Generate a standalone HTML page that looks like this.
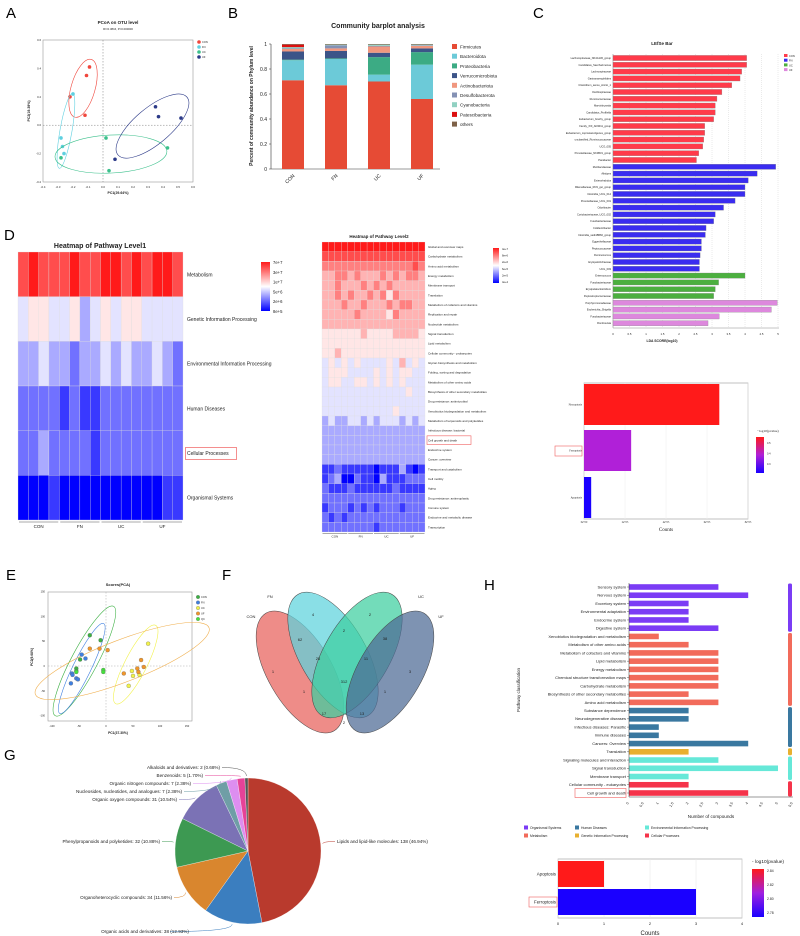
<!DOCTYPE html>
<html><head><meta charset="utf-8"><style>
html,body{margin:0;padding:0;background:#fff}
svg{display:block;font-family:"Liberation Sans",sans-serif}
</style></head><body>
<svg id="fig" width="800" height="936" viewBox="0 0 800 936" xmlns="http://www.w3.org/2000/svg"></svg>
<script>
const NS='http://www.w3.org/2000/svg';
const S=document.getElementById('fig');
function mk(t,a,p){const e=document.createElementNS(NS,t);for(const k in a)e.setAttribute(k,a[k]);(p||S).appendChild(e);return e;}
function tx(x,y,s,str,anchor,extra){const e=mk('text',Object.assign({x:x,y:y,'font-size':s,'text-anchor':anchor||'start',fill:'#222'},extra||{}));e.textContent=str;return e;}
function lab(x,y,s,str,anchor,name,extra){const e=tx(x,y,s,str,anchor,extra);


return e;}
function hex(r,g,b){return 'rgb('+Math.round(r)+','+Math.round(g)+','+Math.round(b)+')';}
function bwr(v){const t=v/9;if(t<0.5){const k=t/0.5;return hex(255*k,255*k,255);}const k=(t-0.5)/0.5;return hex(255,255*(1-k)+26*k,255*(1-k)+26*k);}

/* ---------- data ---------- */
const pcoaGroups=['CON','FN','UC','UF'];
const pcoaColors=['#f0463c','#5fd0e0','#3cc08c','#2c3a88'];
const pcoaX=[[-0.09,-0.11,-0.22,-0.12],[-0.2,-0.28,-0.27,-0.26],[0.02,0.43,0.04,-0.28],[0.35,0.37,0.52,0.08]];
const pcoaY=[[0.41,0.35,0.2,0.07],[0.22,-0.09,-0.15,-0.2],[-0.09,-0.16,-0.32,-0.23],[0.13,0.06,0.05,-0.24]];
const pcoaEllCx=[-0.133,-0.247,0.053,0.33];
const pcoaEllCy=[0.26,-0.04,-0.203,-0.006];
const axTicksA=[-0.4,-0.2,0,0.2,0.4,0.6];
const axTicksAx=[-0.4,-0.3,-0.2,-0.1,0,0.1,0.2,0.3,0.4,0.5,0.6];
const phyla=['Firmicutes','Bacteroidota','Proteobacteria','Verrucomicrobiota','Actinobacteriota','Desulfobacterota','Cyanobacteria','Patescibacteria','others'];
const phylaColors=['#e64b35','#6ccad8','#3cab84','#3c5488','#f0977f','#8491b4','#91d1c2','#dc1010','#7e6148'];
const groupsB=['CON','FN','UC','UF'];
const abund=[[0.71,0.16,0.005,0.065,0.02,0.005,0.01,0.02,0.005],[0.67,0.21,0.005,0.06,0.02,0.025,0.005,0,0.005],[0.70,0.055,0.14,0.035,0.05,0.005,0.01,0,0.005],[0.56,0.275,0.1,0.03,0.02,0.005,0.005,0,0.005]];
const ticksB=[0,0.2,0.4,0.6,0.8,1];
const lefseNames=['Lachnospiraceae_NK4A136_group','Candidatus_Saccharimonas','Lachnospiraceae','Gastranaerophilales','Clostridium_sensu_stricto_1','Oscillospiraceae','Ruminococcaceae','Marvinbryantia','Candidatus_Profftella','Eubacterium_brachy_group','Family_XIII_AD3011_group','Eubacterium_coprostanoligenes_group','unclassified_Ruminococcaceae','UCG_005','Prevotellaceae_NK3B31_group','Parabacter','Muribaculaceae','Alistipes','Enterorhabdus','Rikenellaceae_RC9_gut_group','Clostridia_UCG_014','Prevotellaceae_UCG_001','Odoribacter','Coriobacteriaceae_UCG_002','Fusobacteriaceae','Colidextribacter','Clostridia_vadinBB60_group','Eggerthellaceae','Peptococcaceae','Ruminococcus','Erysipelotrichaceae','UCG_003','Enterococcus','Fusobacteriaceae','Erysipelatoclostridium','Peptostreptococcaceae','Porphyromonadaceae','Escherichia_Shigella','Fusobacteriaceae','Romboutsia'];
const lefseVals=[4.05,4.05,3.9,3.85,3.6,3.3,3.15,3.1,3.1,3.05,2.78,2.78,2.75,2.72,2.6,2.53,4.93,4.37,4.1,4.0,4.0,3.7,3.35,3.1,3.05,2.82,2.8,2.68,2.68,2.64,2.62,2.62,4.0,3.2,3.1,3.05,4.98,4.8,3.22,2.88];
const lefseGroup=[0,0,0,0,0,0,0,0,0,0,0,0,0,0,0,0,1,1,1,1,1,1,1,1,1,1,1,1,1,1,1,1,2,2,2,2,3,3,3,3];
const lefseLegend=['CON','FN','UC','UF'];
const lefseColors=['#ff3b4a','#3a2cf0','#4caf3f','#dd88dd'];
const ldaTicks=[0,0.5,1,1.5,2,2.5,3,3.5,4,4.5,5];
const deathNames=['Necroptosis','Ferroptosis','Apoptosis'];
const deathCounts=[660000,230000,35000];
const deathColors=['#ff1a1a','#b020d8','#1a00ff'];
const countTicksC=[0,200000,400000,600000,800000];
const countTickLabC=['0e+00','2e+05','4e+05','6e+05','8e+05'];
const l1Rows=['Metabolism','Genetic Information Processing','Environmental Information Processing','Human Diseases','Cellular Processes','Organismal Systems'];
const l1Vals=['8988898899898998','4554453454554444','3343323343433432','2222121122222222','2232222122222222','0001000000000011'];
const l1Scale=['7e+7','3e+7','1e+7','5e+6','2e+6','8e+5'];
const l2Rows=['Global and overview maps','Carbohydrate metabolism','Amino acid metabolism','Energy metabolism','Membrane transport','Translation','Metabolism of cofactors and vitamins','Replication and repair','Nucleotide metabolism','Signal transduction','Lipid metabolism','Cellular community - prokaryotes','Glycan biosynthesis and metabolism','Folding, sorting and degradation','Metabolism of other amino acids','Biosynthesis of other secondary metabolites','Drug resistance: antimicrobial','Xenobiotics biodegradation and metabolism','Metabolism of terpenoids and polyketides','Infectious disease: bacterial','Cell growth and death','Endocrine system','Cancer: overview','Transport and catabolism','Cell motility','Aging','Drug resistance: antineoplastic','Immune system','Endocrine and metabolic disease','Transcription'];
const l2Vals=['9999999999999999','8888888888888888','7777777777777787','6677676667676776','6676667676766666','6676766767576666','6667667666767766','6666676666576666','6666666666666666','5555556555566665','5555555555555555','5565555555555555','4545454444546454','4555444454545544','4554455454545444','4444444444444544','4444444444444444','4444444444454444','3433443434443434','3333333333333333','3333333333333333','3333333333333333','3333333333333333','1121111101113101','1230021103111222','2111211111121111','2222222222222222','1222121212221222','2121222222222222','2222222212222222'];
const l2Scale=['4e+7','8e+6','2e+6','6e+5','2e+5','4e+4'];
const hmGroups=['CON','FN','UC','UF'];
const pcaGroups=['CON','FN','UC','UF','QC'];
const pcaColors=['#3cb043','#3f7fe0','#f2f24a','#f0962a','#44e03c'];
const pcaX=[[-30,-10,-48,-55,-55],[-45,-38,-63,-62,-55,-52,-65],[78,48,50,62,42],[-30,-12,3,65,58,60,70,33],[-55,-5,-5]];
const pcaY=[[62,52,13,-5,-10],[23,15,-15,-18,-25,-27,-35],[45,-10,-20,-18,-40],[35,35,32,12,-5,-12,-2,-15],[-12,-8,-12]];
const pcaTicks=[-100,-50,0,50,100,150];
const vennSets=['CON','FN','UC','UF'];
const vennCounts=[4,2,62,2,38,1,25,11,3,312,1,1,17,13,2];
const pieNames=['Lipids and lipid-like molecules','Organic acids and derivatives','Organoheterocyclic compounds','Phenylpropanoids and polyketides','Organic oxygen compounds','Nucleosides, nucleotides, and analogues','Organic nitrogen compounds','Benzenoids','Alkaloids and derivatives'];
const pieVals=[138,38,34,32,31,7,7,5,2];
const piePct=['46.94%','12.93%','11.56%','10.88%','10.54%','2.38%','2.38%','1.70%','0.68%'];
const pieColors=['#b93a2d','#3b7ebf','#d9862e','#3d9952','#7b72b5','#6f9ea6','#dd8ef0','#e64298','#555555'];
const hNames=['Sensory system','Nervous system','Excretory system','Environmental adaptation','Endocrine system','Digestive system','Xenobiotics biodegradation and metabolism','Metabolism of other amino acids','Metabolism of cofactors and vitamins','Lipid metabolism','Energy metabolism','Chemical structure transformation maps','Carbohydrate metabolism','Biosynthesis of other secondary metabolites','Amino acid metabolism','Substance dependence','Neurodegenerative diseases','Infectious diseases: Parasitic','Immune diseases','Cancers: Overview','Translation','Signaling molecules and interaction','Signal transduction','Membrane transport','Cellular community - eukaryotes','Cell growth and death'];
const hVals=[3,4,2,2,2,3,1,2,3,3,3,3,3,2,3,2,2,1,1,4,2,3,5,2,2,4];
const hCat=[0,0,0,0,0,0,1,1,1,1,1,1,1,1,1,2,2,2,2,2,3,4,4,4,5,5];
const hCatNames=['Organismal Systems','Metabolism','Human Diseases','Genetic Information Processing','Environmental Information Processing','Cellular Processes'];
const hCatColors=['#7b3cf5','#f26b5b','#3a78a0','#e8b030','#66e8d8','#f5334a'];
const hTicks=[0,0.5,1,1.5,2,2.5,3,3.5,4,4.5,5,5.5];
const h2Names=['Apoptosis','Ferroptosis'];
const h2Vals=[1,3];
const h2Colors=['#ff1a1a','#1a00ff'];
const h2Ticks=[0,1,2,3,4];
const h2Scale=['2.84','2.82','2.80','2.78'];

[['A',6,18],['B',228,18],['C',533,18],['D',4,240],['E',6,580],['F',222,580],['G',4,760],['H',484,590]].forEach(l=>{
 const e=tx(l[1],l[2],15,l[0],'start',{fill:'#000'});
 
 
});

/* ---------- A ---------- */
(function(){
 const xA=v=>43+(v+0.4)*150, yA=v=>182-(v+0.4)*142;
 const fr=mk('rect',{x:43,y:40,width:150,height:142,fill:'none',stroke:'#999','stroke-width':0.6});
 
 
 mk('line',{x1:xA(0),x2:xA(0),y1:40,y2:182,stroke:'#777','stroke-dasharray':'1.5,1.5','stroke-width':0.5});
 mk('line',{x1:43,x2:193,y1:yA(0),y2:yA(0),stroke:'#777','stroke-dasharray':'1.5,1.5','stroke-width':0.5});
 lab(118,24,4.5,'PCoA on OTU level','middle','pcoa-title',{'font-weight':'bold'});
 lab(118,30,2.8,'R²=0.3816, P=0.000000','middle','pcoa-subtitle');
 axTicksA.forEach(t=>lab(41,yA(t)+1,2.8,t.toFixed(1),'end','pcoa-y-tick'));
 axTicksAx.forEach(t=>lab(xA(t),188,2.8,t.toFixed(1),'middle','pcoa-x-tick'));
 lab(118,194,3.5,'PC1(29.64%)','middle','pcoa-x-title',{'font-weight':'bold'});
 lab(30,111,3.5,'PC2(19.39%)','middle','pcoa-y-title',{'font-weight':'bold',transform:'rotate(-90 30 111)'});
 const ell=[[30,12,106],[38,6,100],[56,19,-3],[45,18,-40]];
 pcoaGroups.forEach((g,i)=>{
  const cx=xA(pcoaEllCx[i]),cy=yA(pcoaEllCy[i]);
  const e=mk('ellipse',{cx:cx,cy:cy,rx:ell[i][0],ry:ell[i][1],fill:'none',stroke:pcoaColors[i],'stroke-width':0.6,transform:'rotate('+ell[i][2]+' '+cx+' '+cy+')'});
  
  
  pcoaX[i].forEach((x,j)=>{
   const c=mk('circle',{cx:xA(x),cy:yA(pcoaY[i][j]),r:1.8,fill:pcoaColors[i]});
   
   
  });
  const lc=mk('circle',{cx:199,cy:42+i*5,r:1.8,fill:pcoaColors[i]});
  
  
  lab(202,43+i*5,2.6,g,'start','pcoa-legend-label');
 });
})();

/* ---------- B ---------- */
(function(){
 const yB=v=>169-v*125;
 const bx=[282,325,368,411];
 lab(378,28,7,'Community barplot analysis','middle','barplot-title',{'font-weight':'bold'});
 lab(253,106,5,'Percent of community abundance on Phylum level','middle','barplot-y-title',{'font-weight':'bold',transform:'rotate(-90 253 106)'});
 const ax=mk('line',{x1:271,x2:271,y1:yB(1),y2:yB(0),stroke:'#333','stroke-width':0.6});
 
 
 ticksB.forEach(t=>{mk('line',{x1:269,x2:271,y1:yB(t),y2:yB(t),stroke:'#333','stroke-width':0.5});lab(267,yB(t)+1.8,5,String(t),'end','barplot-y-tick');});
 mk('line',{x1:271,x2:440,y1:yB(0),y2:yB(0),stroke:'#333','stroke-width':0.6});
 groupsB.forEach((g,i)=>{
  let acc=0;
  abund[i].forEach((v,k)=>{
   if(v<=0)return;
   const r=mk('rect',{x:bx[i],y:yB(acc+v),width:22,height:v*125,fill:phylaColors[k]});
   
   
   acc+=v;
  });
  lab(bx[i]+13,176,5,g,'end','barplot-x-tick',{transform:'rotate(-45 '+(bx[i]+13)+' 176)'});
 });
 phyla.forEach((p,k)=>{
  const r=mk('rect',{x:452,y:44+k*9.7,width:5,height:5,fill:phylaColors[k]});
  
  
  lab(460,48.5+k*9.7,4.6,p,'start','barplot-legend-label');
 });
})();

/* ---------- C ---------- */
(function(){
 const xC=v=>613+v*33, step=6.8, y0=58;
 lab(662,45,4.5,'LEfSe Bar','middle','lefse-title',{'font-weight':'bold'});
 ldaTicks.forEach(t=>{
  mk('line',{x1:xC(t),x2:xC(t),y1:54,y2:328,stroke:'#ccc','stroke-width':0.4,'stroke-dasharray':'1,1'});
  lab(xC(t),335,2.8,String(t),'middle','lefse-x-tick');
 });
 mk('line',{x1:613,x2:779,y1:328,y2:328,stroke:'#888','stroke-width':0.5});
 mk('line',{x1:613,x2:613,y1:54,y2:328,stroke:'#888','stroke-width':0.5});
 lab(662,342,3.4,'LDA SCORE(log10)','middle','lefse-x-title',{'font-weight':'bold'});
 lefseNames.forEach((n,i)=>{
  const y=y0+i*step;
  const r=mk('rect',{x:613,y:y-2.6,width:xC(lefseVals[i])-613,height:5.2,fill:lefseColors[lefseGroup[i]],stroke:'#888','stroke-width':0.3});
  
  
  lab(611,y+1,2.6,n,'end','lefse-label');
 });
 lefseLegend.forEach((g,i)=>{
  const r=mk('rect',{x:784,y:54+i*4.7,width:3.5,height:3,fill:lefseColors[i]});
  
  
  lab(789,57+i*4.7,2.6,g,'start','lefse-legend-label');
 });
 const xD=v=>584+v/800000*164, bandTop=[384,430,477], bh=41;
 mk('rect',{x:584,y:383,width:164,height:136,fill:'#fff',stroke:'#999','stroke-width':0.6});
 countTicksC.forEach((t,i)=>{
  mk('line',{x1:xD(t),x2:xD(t),y1:383,y2:519,stroke:'#eee','stroke-width':0.5});
  lab(xD(t),523,2.6,countTickLabC[i],'middle','death-x-tick',{'font-family':'Liberation Serif'});
 });
 deathNames.forEach((n,i)=>{
  const r=mk('rect',{x:584,y:bandTop[i],width:xD(deathCounts[i])-584,height:bh,fill:deathColors[i]});
  
  
  lab(582,bandTop[i]+bh/2+1,2.8,n,'end','death-y-label',{'font-family':'Liberation Serif'});
 });
 const bx=mk('rect',{x:555,y:446,width:27,height:10,fill:'none',stroke:'#f06060','stroke-width':0.6});
 
 
 lab(666,531,5,'Counts','middle','death-x-title',{'font-family':'Liberation Serif'});
 const g=mk('linearGradient',{id:'gC',x1:0,y1:0,x2:0,y2:1},mk('defs',{}));
 mk('stop',{offset:0,'stop-color':'#ff1a1a'},g);mk('stop',{offset:0.5,'stop-color':'#b020d8'},g);mk('stop',{offset:1,'stop-color':'#1a00ff'},g);
 const cb=mk('rect',{x:756,y:437,width:8,height:36,fill:'url(#gC)'});
 
 
 lab(757,432,3.5,'−log10(pvalue)','start','death-legend-title',{'font-family':'Liberation Serif'});
 ['0.5','0.4','0.3'].forEach((t,i)=>lab(767,444+i*10.5,2.5,t,'start','death-legend-tick'));
})();

/* ---------- D ---------- */
(function(){
 const x0=18,w=(183-18)/16,y0=252,h=(520-252)/6;
 lab(100,248,7,'Heatmap of Pathway Level1','middle','heatmap1-title',{'font-weight':'bold'});
 l1Rows.forEach((r,i)=>{
  for(let j=0;j<16;j++){
   const c=mk('rect',{x:x0+j*w,y:y0+i*h,width:w,height:h,fill:bwr(+l1Vals[i][j]),stroke:'#ddd','stroke-width':0.3});
   
   
  }
  lab(187,y0+i*h+h/2+2,5,r,'start','heatmap1-row-label');
 });
 const cp=mk('rect',{x:185.5,y:y0+4*h+h/2-5.5,width:51,height:12,fill:'none',stroke:'#f06060','stroke-width':0.7});
 
 
 const defs=mk('defs',{});
 const g=mk('linearGradient',{id:'gD',x1:0,y1:0,x2:0,y2:1},defs);
 mk('stop',{offset:0,'stop-color':'#ff1a1a'},g);mk('stop',{offset:0.5,'stop-color':'#fff'},g);mk('stop',{offset:1,'stop-color':'#0000ff'},g);
 const cb=mk('rect',{x:261,y:262,width:9,height:49,fill:'url(#gD)'});
 
 
 l1Scale.forEach((s,i)=>lab(273,264+i*9.8,4.2,s,'start','heatmap1-scale-label'));
 hmGroups.forEach((gname,i)=>{
  mk('line',{x1:x0+i*4*w+1,x2:x0+(i+1)*4*w-1,y1:522,y2:522,stroke:'#555','stroke-width':0.6});
  lab(x0+i*4*w+2*w,528,4.5,gname,'middle','heatmap1-group-label');
 });
 const X0=322,W=(425-322)/16,Y0=242,H=(532-242)/30;
 lab(379,238,4.5,'Heatmap of Pathway Level2','middle','heatmap2-title',{'font-weight':'bold'});
 l2Rows.forEach((r,i)=>{
  for(let j=0;j<16;j++){
   const c=mk('rect',{x:X0+j*W,y:Y0+i*H,width:W,height:H,fill:bwr(+l2Vals[i][j]),stroke:'#ddd','stroke-width':0.25});
   
   
  }
  lab(428,Y0+i*H+H/2+1.2,3,r,'start','heatmap2-row-label');
 });
 const cg=mk('rect',{x:427,y:Y0+20*H+0.5,width:44,height:H-1,fill:'none',stroke:'#f06060','stroke-width':0.6});
 
 
 const cb2=mk('rect',{x:493,y:248,width:6,height:35,fill:'url(#gD)'});
 
 
 l2Scale.forEach((s,i)=>lab(502,250+i*6.6,2.7,s,'start','heatmap2-scale-label'));
 hmGroups.forEach((gname,i)=>{
  mk('line',{x1:X0+i*4*W+0.5,x2:X0+(i+1)*4*W-0.5,y1:533.5,y2:533.5,stroke:'#555','stroke-width':0.5});
  lab(X0+i*4*W+2*W,537.5,3,gname,'middle','heatmap2-group-label');
 });
})();

/* ---------- E ---------- */
(function(){
 const xE=v=>106+v*0.54, yE=v=>666-v*0.496;
 const fr=mk('rect',{x:48,y:592,width:144,height:129,fill:'none',stroke:'#999','stroke-width':0.6});
 
 
 mk('line',{x1:xE(0),x2:xE(0),y1:592,y2:721,stroke:'#aaa','stroke-dasharray':'1.5,1.5','stroke-width':0.5});
 mk('line',{x1:48,x2:192,y1:yE(0),y2:yE(0),stroke:'#aaa','stroke-dasharray':'1.5,1.5','stroke-width':0.5});
 lab(118,586,4,'Scores(PCA)','middle','pca-title',{'font-weight':'bold'});
 pcaTicks.forEach(t=>{lab(45,yE(t)+1,2.6,String(t),'end','pca-y-tick');lab(xE(t),727,2.6,String(t),'middle','pca-x-tick');});
 lab(118,734,3.3,'PC1(37.30%)','middle','pca-x-title',{'font-weight':'bold'});
 lab(33,657,3.3,'PC2(9.68%)','middle','pca-y-title',{'font-weight':'bold',transform:'rotate(-90 33 657)'});
 const ell=[[[-40,10],62,13,-62,'#3cb043'],[[-45,-5],50,9,-64,'#3f7fe0'],[[55,3],44,11,-63,'#f2f24a'],[[30,10],93,21,-21,'#f0b050']];
 ell.forEach((e,i)=>{
  const cx=xE(e[0][0]),cy=yE(e[0][1]);
  const el=mk('ellipse',{cx:cx,cy:cy,rx:e[1],ry:e[2],fill:'none',stroke:e[4],'stroke-width':0.6,transform:'rotate('+e[3]+' '+cx+' '+cy+')'});
  
  
 });
 pcaGroups.forEach((g,i)=>{
  pcaX[i].forEach((x,j)=>{
   const c=mk('circle',{cx:xE(x),cy:yE(pcaY[i][j]),r:2,fill:pcaColors[i],stroke:'#666','stroke-width':0.3});
   
   
  });
  const lc=mk('circle',{cx:198,cy:597+i*5.5,r:1.8,fill:pcaColors[i],stroke:'#666','stroke-width':0.3});
  
  
  lab(201,598+i*5.5,2.6,g,'start','pca-legend-label');
 });
})();

/* ---------- F ---------- */
(function(){
 const ells=[[300,672,68,32,60,'#e8605a'],[333,655,70,33,60,'#5dd3dc'],[357,655,70,33,120,'#3dcf9f'],[390,672,68,32,120,'#4c6a94']];
 ells.forEach((e,i)=>{
  const el=mk('ellipse',{cx:e[0],cy:e[1],rx:e[2],ry:e[3],fill:e[5],'fill-opacity':0.72,stroke:'#444','stroke-width':0.5,transform:'rotate('+e[4]+' '+e[0]+' '+e[1]+')'});
  
  
 });
 const pos=[[313,616],[370,616],[300,641],[344,632],[385,640],[273,673],[318,660],[366,660],[410,673],[344,683],[304,693],[385,693],[324,715],[362,715],[344,724]];
 vennCounts.forEach((c,i)=>lab(pos[i][0],pos[i][1],4,String(c),'middle','venn-count'));
 [[251,618,'CON'],[270,598,'FN'],[421,598,'UC'],[441,618,'UF']].forEach(l=>lab(l[0],l[1],4,l[2],'middle','venn-set-label'));
})();

/* ---------- G ---------- */
(function(){
 const cx=248,cy=851,r=73,tot=pieVals.reduce((a,b)=>a+b,0);
 let a=-Math.PI/2;
 const labPos=[[337,843,'start'],[145,933,'middle'],[172,899,'end'],[160,843,'end'],[177,801,'end'],[182,793,'end'],[191,785,'end'],[203,777,'end'],[220,769,'end']];
 pieVals.forEach((v,i)=>{
  const da=v/tot*2*Math.PI,a2=a+da;
  const p=mk('path',{d:'M'+cx+','+cy+'L'+(cx+r*Math.cos(a))+','+(cy+r*Math.sin(a))+'A'+r+','+r+' 0 '+(da>Math.PI?1:0)+' 1 '+(cx+r*Math.cos(a2))+','+(cy+r*Math.sin(a2))+'Z',fill:pieColors[i],stroke:'#fff','stroke-width':0.3});
  
  
  const mid=(a+a2)/2, ex=cx+(r+2)*Math.cos(mid), ey=cy+(r+2)*Math.sin(mid);
  const L=labPos[i];
  const lx=L[2]==='start'?L[0]-2:(L[2]==='end'?L[0]+2:L[0]+25);
  mk('path',{d:'M'+ex+','+ey+'Q'+ex+','+(L[1]-1.5)+' '+lx+','+(L[1]-1.5),fill:'none',stroke:pieColors[i],'stroke-width':0.5});
  lab(L[0],L[1],4.6,pieNames[i]+': '+v+' ('+piePct[i]+')',L[2],'pie-label');
  a=a2;
 });
})();

/* ---------- H ---------- */
(function(){
 const xH=v=>629+v*29.8, y0=587, step=8.24;
 hNames.forEach((n,i)=>{
  const y=y0+i*step;
  const r=mk('rect',{x:629,y:y-2.8,width:xH(hVals[i])-629,height:5.6,fill:hCatColors[hCat[i]]});
  
  
  mk('line',{x1:627,x2:629,y1:y,y2:y,stroke:'#333','stroke-width':0.4});
  lab(626,y+1.4,4,n,'end','pathway-label');
 });
 mk('line',{x1:629,x2:629,y1:583,y2:797,stroke:'#333','stroke-width':0.5});
 mk('line',{x1:629,x2:xH(5.5),y1:797,y2:797,stroke:'#333','stroke-width':0.5});
 hTicks.forEach(t=>lab(xH(t),803,3.6,String(t),'end','pathway-x-tick',{transform:'rotate(-60 '+xH(t)+' 803)'}));
 lab(711,818,4.6,'Number of compounds','middle','pathway-x-title');
 lab(520,690,4.5,'Pathway classification','middle','pathway-y-title',{transform:'rotate(-90 520 690)'});
 const hb=mk('rect',{x:575,y:y0+25*step-4.5,width:51,height:9,fill:'none',stroke:'#f06060','stroke-width':0.6});
 
 
 const runs=[];hCat.forEach((c,i)=>{if(!runs.length||runs[runs.length-1][0]!==c)runs.push([c,i,i]);else runs[runs.length-1][2]=i;});
 runs.forEach(rn=>{
  const r=mk('rect',{x:788,y:y0+rn[1]*step-3.5,width:4,height:(rn[2]-rn[1])*step+7,rx:1.5,fill:hCatColors[rn[0]]});
  
  
 });
 const lp=[[524,829],[524,837],[575,829],[575,837],[645,829],[645,837]];
 [0,1,2,3,4,5].forEach((c,i)=>{
  const r=mk('rect',{x:lp[i][0],y:lp[i][1]-3.5,width:4,height:4,fill:hCatColors[c]});
  
  
  lab(lp[i][0]+6,lp[i][1],3.4,hCatNames[c],'start','pathway-legend-label');
 });
 const xB=v=>558+v*46, tops=[861,889], bh=26;
 mk('rect',{x:558,y:859,width:184,height:59,fill:'#fff',stroke:'#999','stroke-width':0.6});
 h2Ticks.forEach(t=>{
  mk('line',{x1:xB(t),x2:xB(t),y1:859,y2:918,stroke:'#e6e6e6','stroke-width':0.5});
  lab(xB(t),925,4,String(t),'middle','h2-x-tick');
 });
 h2Names.forEach((n,i)=>{
  const r=mk('rect',{x:558,y:tops[i],width:xB(h2Vals[i])-558,height:bh,fill:h2Colors[i]});
  
  
  lab(556,tops[i]+bh/2+1.5,4.4,n,'end','h2-y-label');
 });
 const fb=mk('rect',{x:529,y:897,width:28,height:10,fill:'none',stroke:'#f06060','stroke-width':0.6});
 
 
 lab(650,935,6,'Counts','middle','h2-x-title');
 const g=mk('linearGradient',{id:'gH',x1:0,y1:0,x2:0,y2:1},mk('defs',{}));
 mk('stop',{offset:0,'stop-color':'#ff1a1a'},g);mk('stop',{offset:0.5,'stop-color':'#a020e0'},g);mk('stop',{offset:1,'stop-color':'#1a00ff'},g);
 const cb=mk('rect',{x:752,y:869,width:12,height:48,fill:'url(#gH)'});
 
 
 lab(752,863,4.8,'- log10(pvalue)','start','h2-legend-title');
 h2Scale.forEach((s,i)=>lab(767,872+i*14,3.4,s,'start','h2-legend-tick'));
})();
</script>
</body></html>
